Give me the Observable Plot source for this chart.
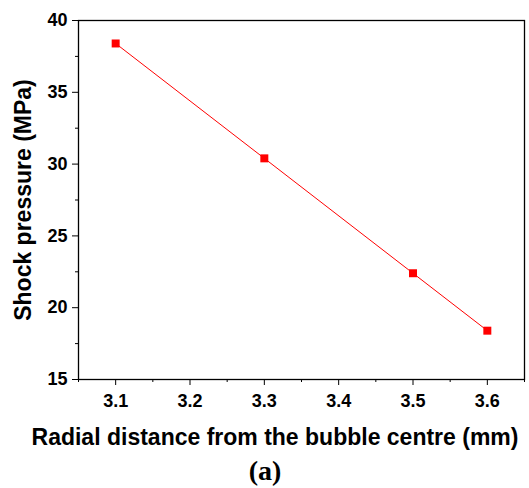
<!DOCTYPE html>
<html>
<head>
<meta charset="utf-8">
<script src="https://cdn.jsdelivr.net/npm/d3@7"></script>
<script src="https://cdn.jsdelivr.net/npm/@observablehq/plot@0.6"></script>
<style>
  html, body { margin: 0; padding: 0; background: #fff; }
  #chart svg text {
    font-family: 'Liberation Sans', Arial, sans-serif !important;
    font-weight: bold !important;
    fill: #000;
  }
  #chart svg g[aria-label*="tick label"] text { font-size: 18px !important; }
  #chart svg text.axis-title { font-size: 23px !important; }
  #chart svg text.caption { font-family: 'Liberation Serif', 'Times New Roman', serif !important; font-size: 28px !important; }
</style>
</head>
<body>
<div id="chart"></div>
<script>
const radialDistance = [3.1, 3.3, 3.5, 3.6];
const shockPressure = [38.4, 30.4, 22.4, 18.4];
const xTicks = [3.1, 3.2, 3.3, 3.4, 3.5, 3.6];
const xMinorTicks = [3.05, 3.15, 3.25, 3.35, 3.45, 3.55, 3.65];
const yTicks = [15, 20, 25, 30, 35, 40];
const yMinorTicks = [17.5, 22.5, 27.5, 32.5, 37.5];
const xLabel = "Radial distance from the bubble centre (mm)";
const yLabel = "Shock pressure (MPa)";
const caption = "(a)";

const data = radialDistance.map((x, i) => ({x, y: shockPressure[i]}));

const W = 529, H = 488;
const chart = Plot.plot({
  width: W,
  height: H,
  marginLeft: 78,
  marginRight: 5,
  marginTop: 20,
  marginBottom: 109,
  x: {domain: [3.05, 3.65]},
  y: {domain: [15, 40]},
  style: {fontSize: "18px", color: "#000", background: "#fff"},
  marks: [
    Plot.axisX(xMinorTicks, {tickSize: 3, text: null, label: null, stroke: "#000"}),
    Plot.axisX(xTicks, {tickSize: 6, tickPadding: 9, tickFormat: d => d.toFixed(1), label: null, stroke: "#000"}),
    Plot.axisY(yMinorTicks, {tickSize: 3, text: null, label: null, stroke: "#000"}),
    Plot.axisY(yTicks, {tickSize: 6, tickPadding: 5, tickFormat: d => String(d), label: null, stroke: "#000"}),
    Plot.frame({stroke: "#000", strokeWidth: 1.3}),
    Plot.line(data, {x: "x", y: "y", stroke: "#ff0000", strokeWidth: 1}),
    Plot.dot(data, {x: "x", y: "y", symbol: "square", r: 4.5, fill: "#ff0000", stroke: "none"})
  ]
});

const svg = d3.select(chart);
svg.append("text")
  .attr("class", "axis-title")
  .attr("transform", "translate(23,200) rotate(-90)")
  .attr("text-anchor", "middle")
  .attr("dominant-baseline", "central")
  .text(yLabel);
svg.append("text")
  .attr("class", "axis-title")
  .attr("x", 275)
  .attr("y", 437)
  .attr("text-anchor", "middle")
  .attr("dominant-baseline", "central")
  .text(xLabel);
svg.append("text")
  .attr("class", "caption")
  .attr("x", 265)
  .attr("y", 470)
  .attr("text-anchor", "middle")
  .attr("dominant-baseline", "central")
  .text(caption);

document.getElementById("chart").appendChild(chart);
</script>
</body>
</html>
